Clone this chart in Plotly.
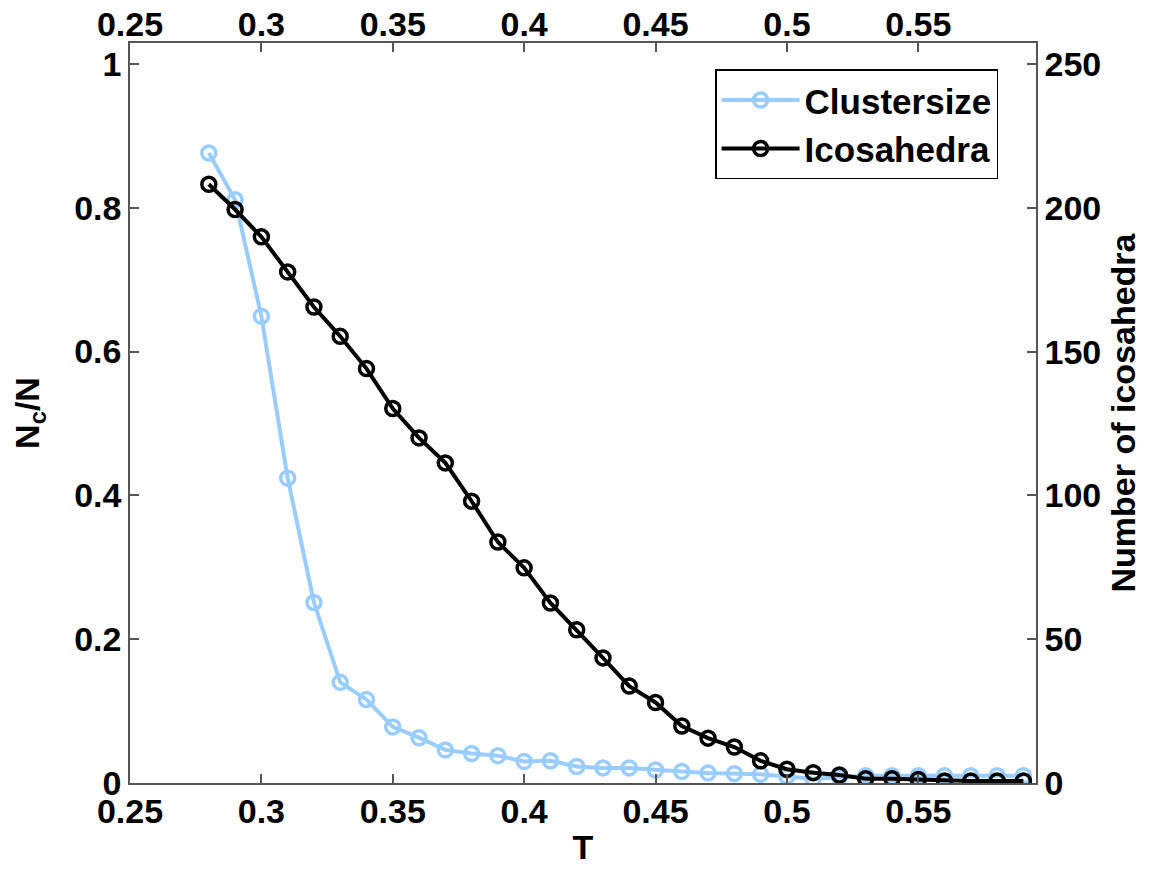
import plotly.graph_objects as go

# ---- data ----
T = [0.28, 0.29, 0.30, 0.31, 0.32, 0.33, 0.34, 0.35, 0.36, 0.37, 0.38, 0.39,
     0.40, 0.41, 0.42, 0.43, 0.44, 0.45, 0.46, 0.47, 0.48, 0.49, 0.50, 0.51,
     0.52, 0.53, 0.54, 0.55, 0.56, 0.57, 0.58, 0.59]
clustersize = [0.876, 0.811, 0.649, 0.424, 0.251, 0.140, 0.116, 0.078, 0.063,
               0.046, 0.041, 0.038, 0.030, 0.031, 0.023, 0.021, 0.021, 0.018,
               0.016, 0.014, 0.013, 0.012, 0.009, 0.006, 0.008, 0.010, 0.010,
               0.010, 0.010, 0.010, 0.010, 0.010]
icosahedra = [208.2, 199.4, 189.9, 177.7, 165.5, 155.3, 144.1, 130.2, 120.0,
              111.3, 98.0, 83.8, 74.8, 62.6, 53.3, 43.5, 33.7, 28.0, 19.8,
              15.6, 12.5, 7.7, 4.8, 3.6, 2.8, 1.5, 1.5, 1.2, 0.7, 0.7, 0.7, 0.7]

x_ticks = [0.25, 0.30, 0.35, 0.40, 0.45, 0.50, 0.55]
x_ticktext = ["0.25", "0.3", "0.35", "0.4", "0.45", "0.5", "0.55"]
yl_ticks = [0, 0.2, 0.4, 0.6, 0.8, 1.0]
yl_ticktext = ["0", "0.2", "0.4", "0.6", "0.8", "1"]
yr_ticks = [0, 50, 100, 150, 200, 250]
yr_ticktext = ["0", "50", "100", "150", "200", "250"]

x_range = [0.25, 0.5948]
yl_range = [0, 1.029]
yr_range = [0, 257.3]

FONT = "Liberation Sans, Arial, Helvetica, sans-serif"
FS = 34
AXC = "#555555"
BLUE = "#99CCFF"

fig = go.Figure()
fig.add_trace(go.Scatter(
    x=T, y=clustersize, name="Clustersize", mode="lines+markers",
    line=dict(color=BLUE, width=4),
    marker=dict(symbol="circle-open", size=14, color=BLUE, line=dict(width=3.5, color=BLUE)),
    xaxis="x", yaxis="y"))
fig.add_trace(go.Scatter(
    x=T, y=icosahedra, name="Icosahedra", mode="lines+markers",
    line=dict(color="black", width=4),
    marker=dict(symbol="circle-open", size=14, color="black", line=dict(width=3.5, color="black")),
    xaxis="x2", yaxis="y2"))

tickfont = dict(family=FONT, size=FS, color="black", weight="bold")
common = dict(showline=True, linecolor=AXC, linewidth=1.5, ticks="inside",
              ticklen=9, tickcolor=AXC, tickwidth=1.5, showgrid=False,
              zeroline=False, tickfont=tickfont, automargin=False)

fig.update_layout(
    width=1144, height=861,
    margin=dict(l=121.5, r=116.3, t=34.7, b=86.3),
    paper_bgcolor="white", plot_bgcolor="white",
    font=dict(family=FONT, size=FS, color="black", weight="bold"),
    xaxis=dict(range=x_range, tickvals=x_ticks, ticktext=x_ticktext,
               title=dict(text="T", font=dict(family=FONT, size=FS, weight="bold"), standoff=7),
               ticklabelstandoff=-3, **common),
    xaxis2=dict(range=x_range, tickvals=x_ticks, ticktext=x_ticktext,
                overlaying="x", side="top", anchor="y", ticklabelstandoff=-8, **common),
    yaxis=dict(range=yl_range, tickvals=yl_ticks, ticktext=yl_ticktext,
               title=dict(text="N<sub>c</sub>/N", font=dict(family=FONT, size=FS, weight="bold"), standoff=30),
               **common),
    yaxis2=dict(range=yr_range, tickvals=yr_ticks, ticktext=yr_ticktext,
                overlaying="y", side="right", anchor="x2",
                title=dict(text="Number of icosahedra", font=dict(family=FONT, size=FS, weight="bold"), standoff=11),
                **common),
    legend=dict(x=0.6458, y=0.9645, xanchor="left", yanchor="top",
                bgcolor="white", bordercolor="black", borderwidth=1.5,
                font=dict(family=FONT, size=35, color="black", weight="bold"),
                itemwidth=78, tracegroupgap=0),
    showlegend=True,
)

fig.write_html("out.html")
